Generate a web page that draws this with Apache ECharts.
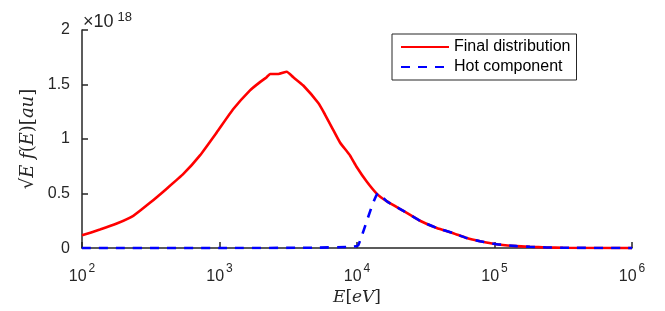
<!DOCTYPE html>
<html>
<head>
<meta charset="utf-8">
<script src="https://cdn.jsdelivr.net/npm/echarts@6/dist/echarts.min.js"></script>
<style>
  html, body { margin: 0; padding: 0; background: #fff; }
  #chart { width: 665px; height: 311px; }
</style>
</head>
<body>
<div id="chart"></div>
<script>
// 能量 E [eV] 与分布值（单位 1e18）
const finalDist = [
  [100, 0.117], [135, 0.170], [179, 0.225], [236, 0.296], [312, 0.415],
  [413, 0.545], [546, 0.680], [721, 0.850], [954, 1.060], [1260, 1.275],
  [1667, 1.447], [1970, 1.522], [2204, 1.567], [2330, 1.596], [2680, 1.596],
  [3083, 1.617], [3444, 1.566], [4067, 1.491], [5231, 1.330], [5851, 1.225],
  [6545, 1.110], [7520, 0.969], [8893, 0.850], [9950, 0.744], [11760, 0.610],
  [13900, 0.500], [16440, 0.430], [21730, 0.341], [28710, 0.251], [38000, 0.185],
  [50120, 0.137], [62800, 0.092], [78500, 0.063], [103700, 0.036], [145000, 0.018],
  [181000, 0.012], [240000, 0.006], [315000, 0.003], [1000000, 0]
]
const hotComp = [
  [100, 0], [1000, 0], [5000, 0.004], [9000, 0.012], [10200, 0.025],
  [14300, 0.505], [16440, 0.430], [21730, 0.341], [28710, 0.251], [38000, 0.185],
  [50120, 0.137], [62800, 0.092], [78500, 0.063], [103700, 0.036], [145000, 0.018],
  [181000, 0.012], [240000, 0.006], [315000, 0.003], [1000000, 0]
]
const seriesNames = ['Final distribution', 'Hot component']
const yTicks = [0, 0.5, 1, 1.5, 2]
const xTickExp = [2, 3, 4, 5, 6]

const axisColor = '#262626'
const sans = 'Liberation Sans'
const serif = 'DejaVu Serif'

const chart = echarts.init(document.getElementById('chart'), null, { renderer: 'canvas' })

chart.setOption({
  animation: false,
  grid: { left: 82, right: 33, top: 30, bottom: 58 },
  legend: {
    data: seriesNames,
    orient: 'vertical',
    left: 392,
    top: 34,
    padding: [5, 6, 5, 8],
    itemGap: 4,
    itemWidth: 48,
    itemHeight: 16,
    borderColor: axisColor,
    borderWidth: 1,
    backgroundColor: '#fff',
    itemStyle: { opacity: 0 },
    textStyle: { fontFamily: sans, fontSize: 16, color: '#000' }
  },
  xAxis: {
    type: 'log',
    logBase: 10,
    min: Math.pow(10, xTickExp[0]),
    max: Math.pow(10, xTickExp[xTickExp.length - 1]),
    name: '{i|E}{n|[}{i|eV}{n|]}',
    nameLocation: 'middle',
    nameGap: 36,
    nameTextStyle: {
      rich: {
        i: { fontFamily: serif, fontStyle: 'italic', fontSize: 17, color: axisColor },
        n: { fontFamily: serif, fontSize: 17, color: axisColor }
      }
    },
    axisLine: { lineStyle: { color: axisColor, width: 1.5 } },
    axisTick: { inside: true, length: 6, lineStyle: { color: axisColor, width: 1.5 } },
    minorTick: { show: false },
    splitLine: { show: false },
    axisLabel: {
      margin: 12,
      formatter: (v) => `{b|10}{s|${Math.round(Math.log10(v))}}`,
      rich: {
        b: { fontFamily: sans, fontSize: 16, color: axisColor, padding: [8, 0, 0, 0] },
        s: { fontFamily: sans, fontSize: 12, color: axisColor, padding: [0, 0, 6, 2] }
      }
    }
  },
  yAxis: {
    type: 'value',
    min: yTicks[0],
    max: yTicks[yTicks.length - 1],
    interval: 0.5,
    name: '{r|√}{i|E f}{n|(}{i|E}{n|)}{n|[}{i|au}{n|]}',
    nameLocation: 'middle',
    nameGap: 43,
    nameRotate: 90,
    nameTextStyle: {
      rich: {
        r: { fontFamily: serif, fontSize: 18, color: axisColor },
        i: { fontFamily: serif, fontStyle: 'italic', fontSize: 18, color: axisColor },
        n: { fontFamily: serif, fontSize: 18, color: axisColor }
      }
    },
    axisLine: { show: true, lineStyle: { color: axisColor, width: 1.5 } },
    axisTick: { show: true, inside: true, length: 6, lineStyle: { color: axisColor, width: 1.5 } },
    splitLine: { show: false },
    axisLabel: { fontFamily: sans, fontSize: 16, color: axisColor, margin: 12 }
  },
  graphic: [
    {
      type: 'text',
      left: 83,
      top: 11,
      style: {
        text: '{m|×10}{s|18}',
        rich: {
          m: { fontFamily: sans, fontSize: 18, fill: axisColor },
          s: { fontFamily: sans, fontSize: 13, fill: axisColor, padding: [0, 0, 10, 4] }
        }
      }
    }
  ],
  series: [
    {
      name: seriesNames[0],
      type: 'line',
      data: finalDist,
      symbol: 'none',
      smooth: 0.15,
      z: 2,
      lineStyle: { color: '#ff0000', width: 2.6 },
      itemStyle: { color: '#ff0000' }
    },
    {
      name: seriesNames[1],
      type: 'line',
      data: hotComp,
      symbol: 'none',
      smooth: 0.15,
      z: 3,
      lineStyle: { color: '#0000ff', width: 2.6, type: [9, 8] },
      itemStyle: { color: '#0000ff' }
    }
  ]
})
</script>
</body>
</html>
